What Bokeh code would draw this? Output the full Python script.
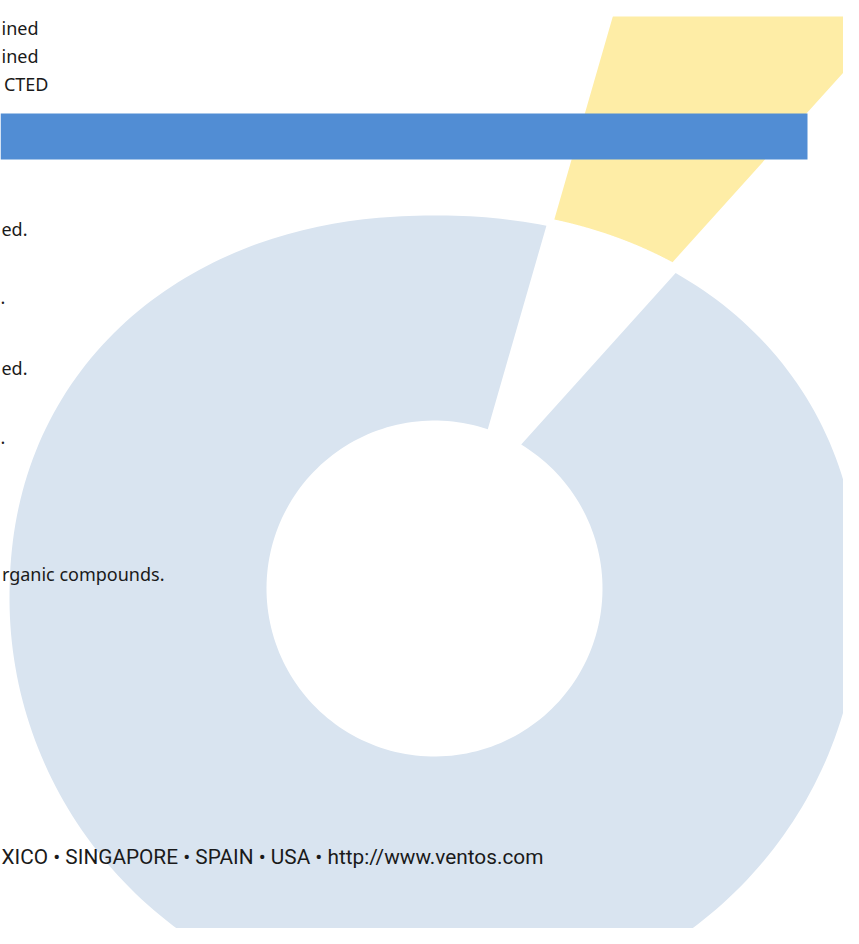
import numpy as np
from bokeh.plotting import figure
from bokeh.models import Range1d, Label, ColumnDataSource
from bokeh.embed import file_html
from bokeh.resources import INLINE

# ---------------- data ----------------
slice_labels = ["Other", "Highlighted"]
slice_values = [92.8, 7.2]
slice_colors = ["#d9e4f0", "#feeda6"]

left_texts = ["ined", "ined", "CTED", "ed.", ".", "ed.", ".", "rganic compounds."]
footer_text = "XICO \u2022 SINGAPORE \u2022 SPAIN \u2022 USA \u2022 http://www.ventos.com"

# ---------------- layout / style ----------------
REF_H = 944                         # data y = REF_H - picture y
W, H = 843, 928
TOP = 16                            # plot frame starts 16px below the top
OC = (434, REF_H - 598)             # centre of the outer edge
HC = (434, REF_H - 588)             # centre of the hole
A_OUT = 425                         # horizontal half-width of the outer edge
B_TOP, N_TOP = 383, 2.15            # upper half of the outer edge
B_BOT, N_BOT = 415, 2.0             # lower half of the outer edge
R_IN = 168
START_DEG = 48                      # start angle of highlighted slice
GAP_SHIFT = (31, 82)                # apex of the ring gap, from hole centre
EXPLODE = (15, 31)                  # extra shift of the highlighted slice
K_IN, K_OUT = 1.02, 2.3             # highlighted slice radial extent

p = figure(width=W, height=H, output_backend="svg", toolbar_location=None,
           x_range=Range1d(0, W), y_range=Range1d(REF_H - H, REF_H - TOP),
           x_axis_location=None, y_axis_location=None,
           min_border_left=0, min_border_right=0, min_border_top=TOP,
           min_border_bottom=0)
p.grid.visible = False
p.outline_line_color = None
p.background_fill_color = "white"
p.border_fill_color = "white"


def edge_val(dx, dy, k):
    """<1 inside the (scaled by k) outer edge, >1 outside."""
    if dy >= 0:
        b, n = B_TOP * k, N_TOP
    else:
        b, n = B_BOT * k, N_BOT
    return abs(dx / (A_OUT * k)) ** n + abs(dy / b) ** n


def rho(th, k):
    out = []
    for t in np.atleast_1d(th):
        c, s = np.cos(t), np.sin(t)
        lo, hi = 0.0, 5000.0
        for _ in range(60):
            mid = 0.5 * (lo + hi)
            if edge_val(mid * c, mid * s, k) < 1:
                lo = mid
            else:
                hi = mid
        out.append(lo)
    return np.array(out)


def ray_shape(P, u, k):
    lo, hi = 0.0, 6000.0
    for _ in range(80):
        mid = 0.5 * (lo + hi)
        if edge_val(P[0] + mid * u[0] - OC[0], P[1] + mid * u[1] - OC[1], k) < 1:
            lo = mid
        else:
            hi = mid
    return (P[0] + lo * u[0], P[1] + lo * u[1])


def ray_circle(P, u, r):
    dx, dy = P[0] - HC[0], P[1] - HC[1]
    b = dx * u[0] + dy * u[1]
    c = dx * dx + dy * dy - r * r
    t = -b + np.sqrt(b * b - c)
    return (P[0] + t * u[0], P[1] + t * u[1])


def polar(Q, c):
    return np.arctan2(Q[1] - c[1], Q[0] - c[0])


def shape_arc(k, f0, f1, n=300):
    f = np.linspace(f0, f1, n)
    r = rho(f, k)
    return list(OC[0] + r * np.cos(f)), list(OC[1] + r * np.sin(f))


def circle_arc(r, f0, f1, n=200):
    f = np.linspace(f0, f1, n)
    return list(HC[0] + r * np.cos(f)), list(HC[1] + r * np.sin(f))


total = float(sum(slice_values))
hl_start = np.deg2rad(START_DEG)
hl_end = hl_start + 2 * np.pi * slice_values[1] / total
u_s = (np.cos(hl_start), np.sin(hl_start))
u_e = (np.cos(hl_end), np.sin(hl_end))

# ---- ring slice, with the gap left by the highlighted slice ----
P = (HC[0] + GAP_SHIFT[0], HC[1] + GAP_SHIFT[1])
O1 = ray_shape(P, u_e, 1.0)
O2 = ray_shape(P, u_s, 1.0)
I1 = ray_circle(P, u_e, R_IN)
I2 = ray_circle(P, u_s, R_IN)
ox, oy = shape_arc(1.0, polar(O1, OC), polar(O2, OC) + 2 * np.pi)
ix, iy = circle_arc(R_IN, polar(I2, HC) + 2 * np.pi, polar(I1, HC))
ring_x, ring_y = ox + ix, oy + iy

# ---- highlighted slice (pulled out, outer ring) ----
Y = (P[0] + EXPLODE[0], P[1] + EXPLODE[1])
Y1 = ray_shape(Y, u_s, K_IN)
Y2 = ray_shape(Y, u_e, K_IN)
Y3 = ray_shape(Y, u_e, K_OUT)
Y4 = ray_shape(Y, u_s, K_OUT)
yix, yiy = shape_arc(K_IN, polar(Y1, OC), polar(Y2, OC))
yox, yoy = shape_arc(K_OUT, polar(Y3, OC), polar(Y4, OC))
hl_x, hl_y = yix + yox, yiy + yoy

src = ColumnDataSource(dict(xs=[hl_x, ring_x], ys=[hl_y, ring_y],
                            label=[slice_labels[1], slice_labels[0]],
                            color=[slice_colors[1], slice_colors[0]]))
p.patches("xs", "ys", source=src, fill_color="color", line_color=None)

# ---- header band ----
p.quad(left=[0], right=[807], bottom=[REF_H - 159], top=[REF_H - 113],
       fill_color="#518dd4", line_color=None)

# ---- texts ----
text_x = [38, 38, 48, 27, 0, 27, 0, 164]
text_align = ["right", "right", "right", "right", "left", "right", "left", "right"]
text_base = [27, 55, 83, 228, 297, 367, 437, 573]
for t, xx, al, yb in zip(left_texts, text_x, text_align, text_base):
    p.add_layout(Label(x=xx, y=REF_H - yb, text=t, text_align=al,
                       text_baseline="alphabetic", text_font="Noto Sans",
                       text_font_size="18px", text_color="#1a1a1a"))

p.add_layout(Label(x=1, y=REF_H - 856, text=footer_text, text_align="left",
                   text_baseline="alphabetic", text_font="Roboto",
                   text_font_size="20.8px", text_color="#1a1a1a"))

open("out.html", "w").write(file_html(p, INLINE))
